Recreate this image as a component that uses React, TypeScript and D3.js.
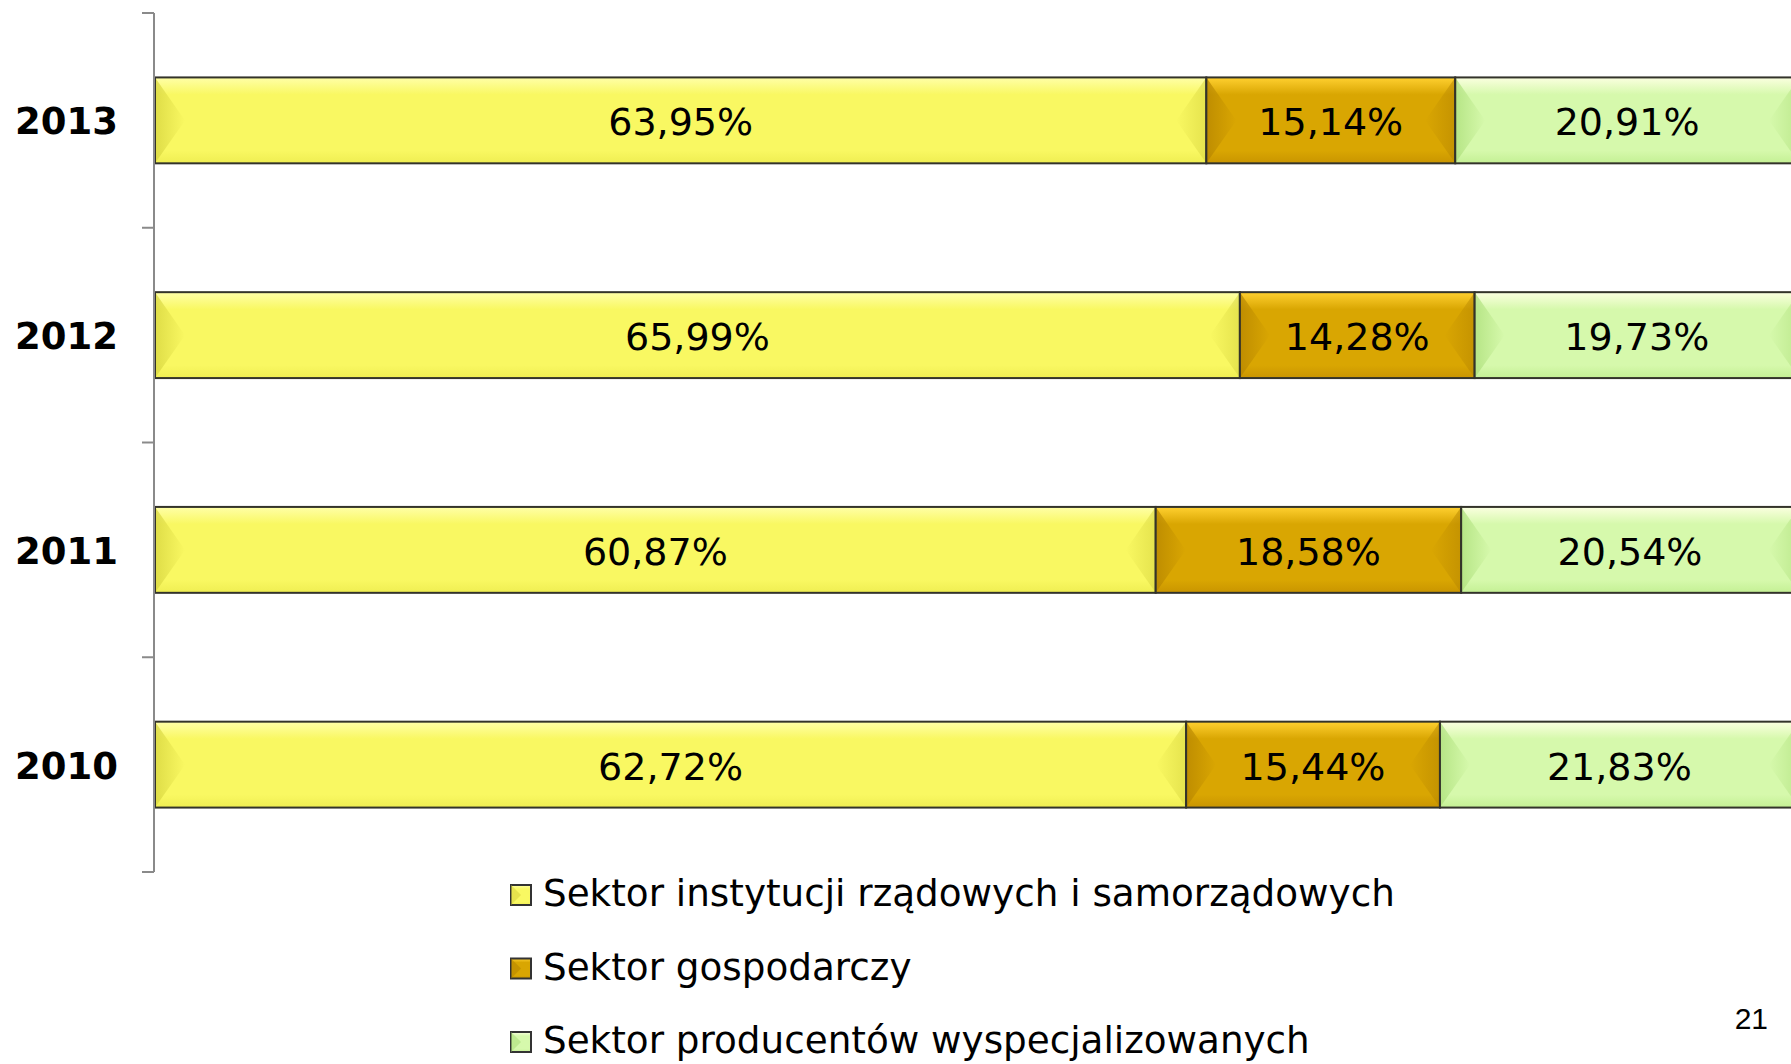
import React from "react";
import * as d3 from "d3";

const years = ["2013", "2012", "2011", "2010"];
const sectorNames = [
  "Sektor instytucji rządowych i samorządowych",
  "Sektor gospodarczy",
  "Sektor producentów wyspecjalizowanych",
];
const govShare = [63.95, 65.99, 60.87, 62.72];
const businessShare = [15.14, 14.28, 18.58, 15.44];
const specialistShare = [20.91, 19.73, 20.54, 21.83];
const pageNumber = "21";

const seriesColors = [
  { top: "#ffffa8", mid: "#f9f862", bot: "#efee52", edge: "#d8d640" },
  { top: "#ffd030", mid: "#d9a602", bot: "#c99500", edge: "#b88700" },
  { top: "#fbffe0", mid: "#d6f9ac", bot: "#c4f094", edge: "#aee07c" },
];

const W = 1791;
const H = 1064;

const App = () => {
  const x = d3.scaleLinear().domain([0, 100]).range([155, 1799]);
  const y = d3.scaleBand().domain(years).range([13, 872]).paddingInner(0.6).paddingOuter(0.3);
  const band = d3.scaleBand().domain(years).range([13, 872]);

  const table = years.map((yr, i) => ({
    year: yr,
    values: [govShare[i], businessShare[i], specialistShare[i]],
  }));
  const stack = d3
    .stack<{ year: string; values: number[] }, number>()
    .keys([0, 1, 2])
    .value((d, k) => d.values[k]);
  const layers = stack(table);

  const fmt = (v: number) => d3.format(".2f")(v).replace(".", ",") + "%";
  const bh = y.bandwidth();
  const bevel = 30;

  return (
    <svg width={W} height={H} style={{ display: "block", position: "fixed", left: 0, top: 0 }}>
      <defs>
        {seriesColors.map((c, i) => (
          <linearGradient key={i} id={`g${i}`} x1="0" y1="0" x2="0" y2="1">
            <stop offset="0" stopColor={c.top} />
            <stop offset="0.2" stopColor={c.mid} />
            <stop offset="0.85" stopColor={c.mid} />
            <stop offset="1" stopColor={c.bot} />
          </linearGradient>
        ))}
        {seriesColors.map((c, i) => (
          <linearGradient key={"l" + i} id={`lb${i}`} x1="0" y1="0" x2="1" y2="0">
            <stop offset="0" stopColor={c.edge} stopOpacity="0.8" />
            <stop offset="1" stopColor={c.edge} stopOpacity="0" />
          </linearGradient>
        ))}
        {seriesColors.map((c, i) => (
          <linearGradient key={"r" + i} id={`rb${i}`} x1="1" y1="0" x2="0" y2="0">
            <stop offset="0" stopColor={c.edge} stopOpacity="0.6" />
            <stop offset="1" stopColor={c.edge} stopOpacity="0" />
          </linearGradient>
        ))}
      </defs>
      <rect width={W} height={H} fill="#fff" />

      {/* bars */}
      {layers.map((layer, si) =>
        layer.map((seg, i) => {
          const x0 = x(seg[0]);
          const x1 = x(seg[1]);
          const y0 = y(years[i])!;
          const ym = y0 + bh / 2;
          return (
            <g key={`${si}-${i}`}>
              <rect x={x0} y={y0} width={x1 - x0} height={bh} fill={`url(#g${si})`} />
              <polygon
                points={`${x0},${y0} ${x0 + bevel},${ym} ${x0},${y0 + bh}`}
                fill={`url(#lb${si})`}
              />
              <polygon
                points={`${x1},${y0} ${x1 - bevel},${ym} ${x1},${y0 + bh}`}
                fill={`url(#rb${si})`}
              />
              <rect
                x={x0}
                y={y0}
                width={x1 - x0}
                height={bh}
                fill="none"
                stroke="#33332a"
                strokeWidth={2}
              />
              <text
                x={(x0 + x1) / 2}
                y={ym + 15}
                textAnchor="middle"
                fontFamily="'DejaVu Sans', Verdana, sans-serif"
                fontSize={38}
                fill="#000"
              >
                {fmt(seg.data.values[si])}
              </text>
            </g>
          );
        })
      )}

      {/* axis */}
      <line x1={154} x2={154} y1={13} y2={872} stroke="#8a8a8a" strokeWidth={2} />
      {[...years.map((yr) => band(yr)!), 872].map((t, i) => (
        <line key={i} x1={142} x2={154} y1={t} y2={t} stroke="#8a8a8a" strokeWidth={2} />
      ))}
      {years.map((yr) => (
        <text
          key={yr}
          x={118}
          y={band(yr)! + band.bandwidth() / 2 + 14}
          textAnchor="end"
          fontFamily="'DejaVu Sans', Verdana, sans-serif"
          fontWeight="bold"
          fontSize={37}
          fill="#000"
        >
          {yr}
        </text>
      ))}

      {/* legend */}
      {sectorNames.map((name, i) => {
        const base = 906 + i * 73.5;
        return (
          <g key={name}>
            <rect x={511} y={base - 21} width={20} height={20} fill={`url(#g${i})`} stroke="#333" strokeWidth={2} />
            <polygon
              points={`${511},${base - 21} ${521},${base - 11} ${511},${base - 1}`}
              fill={seriesColors[i].edge}
              opacity={0.6}
            />
            <text
              x={543}
              y={base}
              fontFamily="'DejaVu Sans', Verdana, sans-serif"
              fontSize={37.3}
              fill="#000"
            >
              {name}
            </text>
          </g>
        );
      })}

      <text x={1768} y={1029} textAnchor="end" fontFamily="'Liberation Sans', Arial, sans-serif" fontSize={30} fill="#000">
        {pageNumber}
      </text>
    </svg>
  );
};

export default App;
